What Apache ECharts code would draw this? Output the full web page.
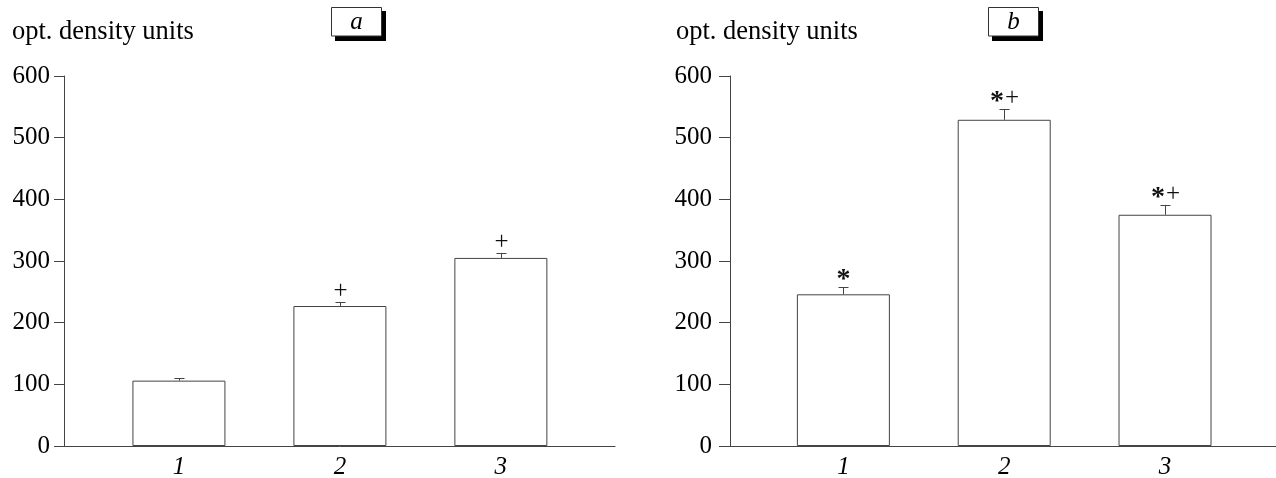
<!DOCTYPE html>
<html>
<head>
<meta charset="utf-8">
<script src="https://cdn.jsdelivr.net/npm/echarts@6/dist/echarts.min.js"></script>
<style>
  html, body { margin: 0; padding: 0; background: #fff; }
  #chart { width: 1276px; height: 478px; }
</style>
</head>
<body>
<div id="chart"></div>
<script>
// groups on the x axis
var categories = ['1', '2', '3'];
var yTicks = [0, 100, 200, 300, 400, 500, 600];

// panel a
var meansA = [106, 227, 305];
var errA = [5, 6.5, 8];
var marksA = ['', '+', '+'];

// panel b
var meansB = [246, 529, 375];
var errB = [12, 18, 16];
var marksB = ['*', '*+', '*+'];

var axisColor = '#444';
var serif = '"Liberation Serif", "Times New Roman", serif';

function barData(means) {
    return means.map(function (v, i) { return [i + 1, v]; });
}
function errData(means, errs) {
    return means.map(function (v, i) { return [i + 1, v, errs[i]]; });
}

function errRender(marks) {
    return function (params, api) {
        var x = api.value(0), y = api.value(1), e = api.value(2);
        var p0 = api.coord([x, y]);
        var p1 = api.coord([x, y + e]);
        var cx = Math.round(p0[0]) + 0.5;
        var topY = Math.round(p1[1]) + 0.5;
        var lineStyle = { stroke: axisColor, lineWidth: 1 };
        var children = [
            { type: 'line', shape: { x1: cx, y1: p0[1], x2: cx, y2: topY }, style: lineStyle },
            { type: 'line', shape: { x1: cx - 5, y1: topY, x2: cx + 5, y2: topY }, style: lineStyle }
        ];
        var m = marks[params.dataIndex] || '';
        for (var i = 0; i < m.length; i++) {
            var ch = m.charAt(i);
            var tx = cx + (i - (m.length - 1) / 2) * 15;
            var star = ch === '*';
            children.push({
                type: 'text',
                style: {
                    text: ch,
                    x: tx,
                    y: topY - 11 + (star ? 3 : 0),
                    textAlign: 'center',
                    textVerticalAlign: 'middle',
                    fill: '#111',
                    font: star ? 'bold 28px ' + serif : '25px ' + serif
                }
            });
        }
        return { type: 'group', children: children };
    };
}

function xAxisCfg(gridIndex, min, max) {
    return {
        type: 'value', gridIndex: gridIndex, min: min, max: max,
        splitLine: { show: false },
        axisLine: { show: true, lineStyle: { color: axisColor, width: 1 } },
        axisTick: { show: false },
        axisLabel: {
            customValues: [1, 2, 3],
            formatter: function (v) { return categories[Math.round(v) - 1] || ''; },
            fontFamily: serif, fontStyle: 'italic', fontSize: 25, color: '#000', margin: 9
        }
    };
}
function yAxisCfg(gridIndex, tickLen, labelMargin) {
    return {
        type: 'value', gridIndex: gridIndex, min: 0, max: 600, interval: 100,
        splitLine: { show: false },
        axisLine: { show: true, lineStyle: { color: axisColor, width: 1 } },
        axisTick: { show: true, length: tickLen, lineStyle: { color: axisColor } },
        axisLabel: {
            formatter: function (v) { return yTicks.indexOf(v) >= 0 ? String(v) : ''; },
            fontFamily: serif, fontSize: 25, color: '#000', margin: labelMargin
        }
    };
}

function boxLabel(x, letter) {
    return {
        type: 'group', left: x, top: 7,
        children: [
            { type: 'rect', shape: { x: 4, y: 4, width: 51, height: 30 }, style: { fill: '#000' } },
            { type: 'rect', shape: { x: 0.5, y: 0.5, width: 50, height: 28.5 }, style: { fill: '#fff', stroke: '#333', lineWidth: 1 } },
            { type: 'text', style: { text: letter, x: 25.5, y: 15, textAlign: 'center', textVerticalAlign: 'middle', font: 'italic 25px ' + serif, fill: '#000' } }
        ]
    };
}

var chart = echarts.init(document.getElementById('chart'));
var option = {
    animation: false,
    backgroundColor: '#fff',
    grid: [
        { left: 64, top: 76, right: 661, bottom: 32, outerBoundsMode: 'none' },
        { left: 730, top: 76, right: 0, bottom: 32, outerBoundsMode: 'none' }
    ],
    xAxis: [xAxisCfg(0, 0.286, 3.709), xAxisCfg(1, 0.295, 3.69)],
    yAxis: [yAxisCfg(0, 10, 14), yAxisCfg(1, 11, 18)],
    graphic: [
        { type: 'text', left: 12, top: 19, style: { text: 'opt. density units', font: '26.5px ' + serif, fill: '#000' } },
        { type: 'text', left: 676, top: 19, style: { text: 'opt. density units', font: '26.5px ' + serif, fill: '#000' } },
        boxLabel(331, 'a'),
        boxLabel(988, 'b')
    ],
    series: [
        {
            type: 'bar', xAxisIndex: 0, yAxisIndex: 0, data: barData(meansA), barWidth: 93,
            itemStyle: { color: '#fff', borderColor: axisColor, borderWidth: 1 }
        },
        {
            type: 'custom', xAxisIndex: 0, yAxisIndex: 0, data: errData(meansA, errA),
            renderItem: errRender(marksA), z: 5
        },
        {
            type: 'bar', xAxisIndex: 1, yAxisIndex: 1, data: barData(meansB), barWidth: 93,
            itemStyle: { color: '#fff', borderColor: axisColor, borderWidth: 1 }
        },
        {
            type: 'custom', xAxisIndex: 1, yAxisIndex: 1, data: errData(meansB, errB),
            renderItem: errRender(marksB), z: 5
        }
    ]
};
chart.setOption(option);
</script>
</body>
</html>
